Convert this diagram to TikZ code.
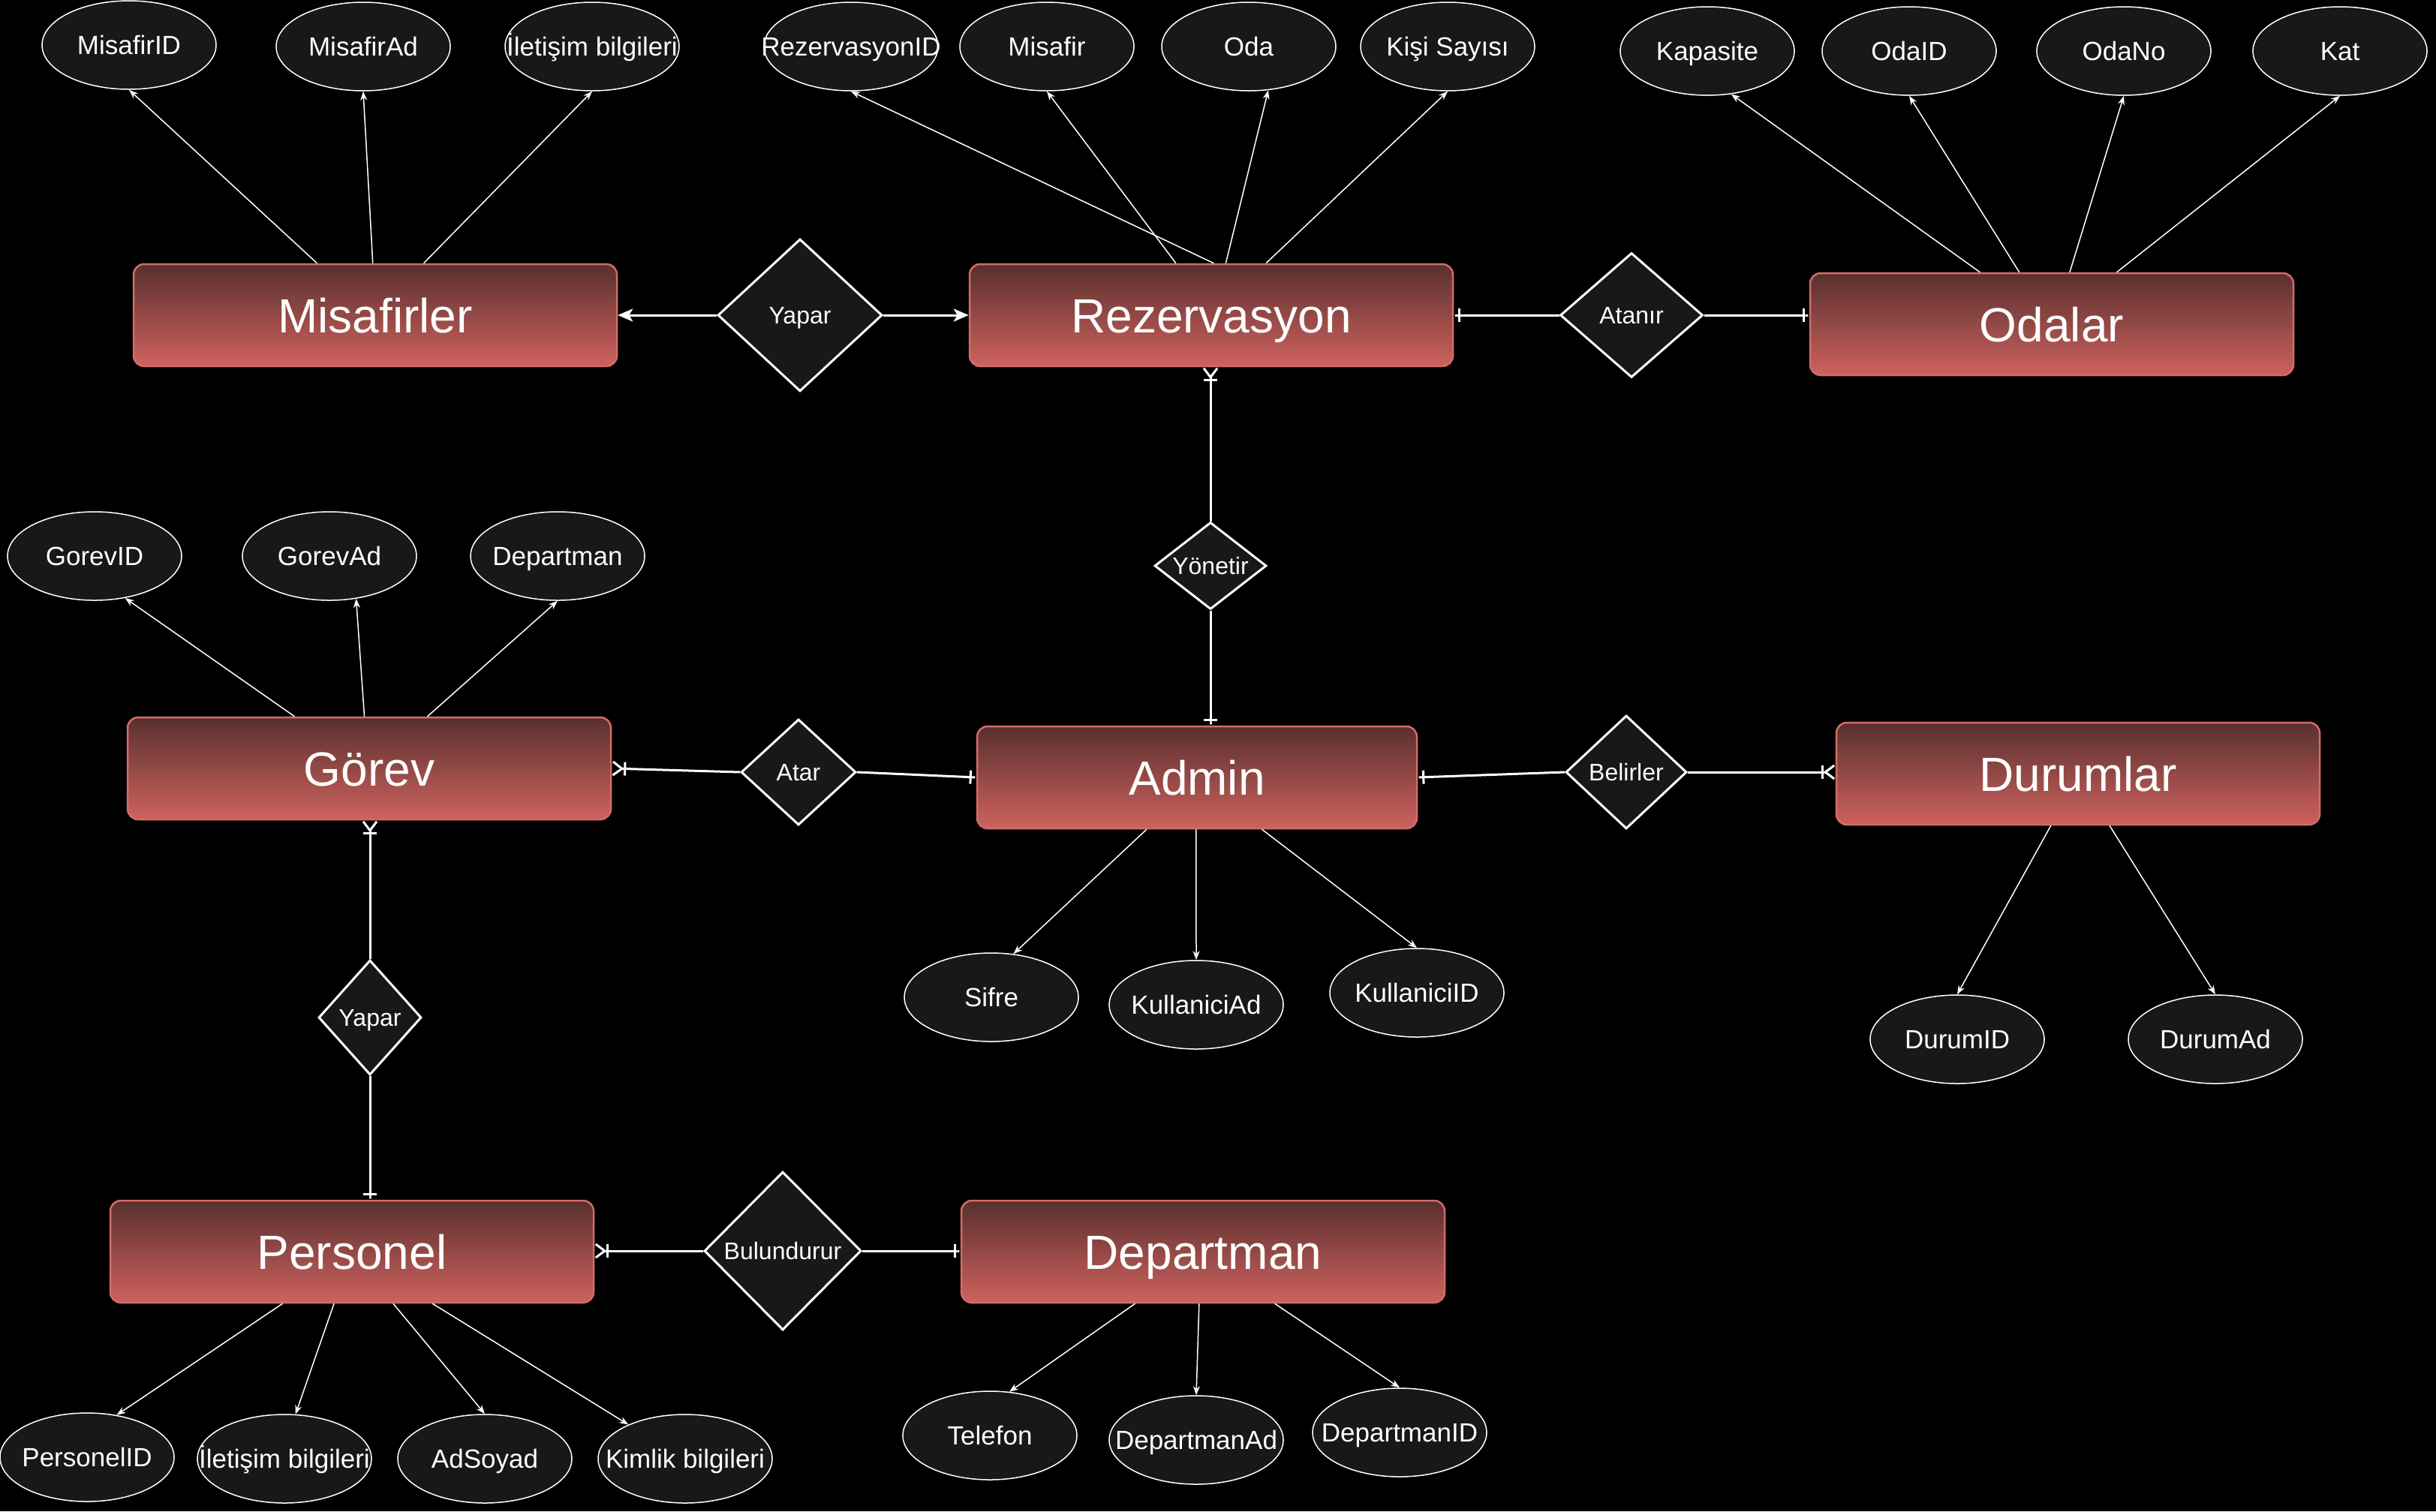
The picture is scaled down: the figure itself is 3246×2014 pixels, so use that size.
\documentclass[tikz,border=0pt]{standalone}
\usepackage{fontspec}
\setmainfont{Liberation Sans}
\usetikzlibrary{shapes.geometric,arrows.meta,calc}

\definecolor{nodefill}{HTML}{181818}
\definecolor{enttop}{RGB}{88,48,46}
\definecolor{entbot}{RGB}{206,98,94}
\definecolor{entline}{RGB}{212,108,104}

\newcommand\ctxt[1]{\makebox[0pt]{#1}}

\tikzset{
 entity/.style={rectangle, rounded corners=14pt, top color=enttop, bottom color=entbot, draw=entline, line width=2.5pt, minimum width=644pt, minimum height=136pt, inner sep=0pt, text=white, text height=46pt, text depth=0pt, font=\fontsize{64}{76}\selectfont},
 attr/.style={ellipse, fill=nodefill, draw=white!90, line width=1.5pt, minimum width=232pt, minimum height=118pt, inner sep=0pt, text=white, text height=25pt, text depth=0pt, font=\fontsize{35}{42}\selectfont},
 rel/.style={diamond, fill=nodefill, draw=white, line width=3pt, inner sep=0pt, text=white, text height=23pt, text depth=0pt, font=\fontsize{32}{38}\selectfont},
 attrline/.style={draw=white!85, line width=1.5pt, -{Stealth[length=12pt,width=9pt]}},
 relline/.style={draw=white, line width=3pt},
 toarrow/.style={-{Stealth[length=20pt,width=17pt,inset=5pt]}},
 toone/.style={-{Bar[width=18pt]Rectangle[length=6pt,width=3pt]}},
 tomany/.style={-{Bar[width=18pt]Straight Barb[reversed,length=12pt,width=18pt]}},
}

\begin{document}
\begin{tikzpicture}[x=1pt,y=-1pt]
\fill[black] (0,0) rectangle (3246,2014);
\useasboundingbox (0,0) rectangle (3246,2014);

% entities
\node[entity] (mis) at (500,420) {Misafirler};
\node[entity] (rez) at (1614,420) {Rezervasyon};
\node[entity] (oda) at (2734,432) {Odalar};
\node[entity] (gor) at (492,1024) {Görev};
\node[entity, minimum width=586pt] (adm) at (1595,1036) {Admin};
\node[entity] (dur) at (2769,1031) {Durumlar};
\node[entity] (per) at (469,1668) {Personel};
\node[entity] (dep) at (1603,1668) {Departman};

% relationships
\node[rel, minimum width=219pt, minimum height=203pt] (yap1) at (1066,420) {\ctxt{Yapar}};
\node[rel, minimum width=190pt, minimum height=166pt] (ata) at (2174,420) {\ctxt{Atanır}};
\node[rel, minimum width=149pt, minimum height=116pt] (yon) at (1613,754) {\ctxt{Yönetir}};
\node[rel, minimum width=153pt, minimum height=141pt] (atar) at (1064,1029) {\ctxt{Atar}};
\node[rel, minimum width=161pt, minimum height=151pt] (bel) at (2167,1029) {\ctxt{Belirler}};
\node[rel, minimum width=137pt, minimum height=153pt] (yap2) at (493,1356) {\ctxt{Yapar}};
\node[rel, minimum width=209pt, minimum height=211pt] (bul) at (1043,1667) {\ctxt{Bulundurur}};

% attributes
\node[attr] (a1) at (172,60) {\ctxt{MisafirID}};
\node[attr] (a2) at (484,62) {\ctxt{MisafirAd}};
\node[attr] (a3) at (789,62) {\ctxt{İletişim bilgileri}};
\node[attr] (a4) at (1134,62) {\ctxt{RezervasyonID}};
\node[attr] (a5) at (1395,62) {\ctxt{Misafir}};
\node[attr] (a6) at (1664,62) {\ctxt{Oda}};
\node[attr] (a7) at (1929,62) {\ctxt{Kişi Sayısı}};
\node[attr] (a8) at (2275,68) {\ctxt{Kapasite}};
\node[attr] (a9) at (2544,68) {\ctxt{OdaID}};
\node[attr] (a10) at (2830,68) {\ctxt{OdaNo}};
\node[attr] (a11) at (3118,68) {\ctxt{Kat}};
\node[attr] (b1) at (126,741) {\ctxt{GorevID}};
\node[attr] (b2) at (439,741) {\ctxt{GorevAd}};
\node[attr] (b3) at (743,741) {\ctxt{Departman}};
\node[attr] (c1) at (1321,1329) {\ctxt{Sifre}};
\node[attr] (c2) at (1594,1339) {\ctxt{KullaniciAd}};
\node[attr] (c3) at (1888,1323) {\ctxt{KullaniciID}};
\node[attr] (d1) at (2608,1385) {\ctxt{DurumID}};
\node[attr] (d2) at (2952,1385) {\ctxt{DurumAd}};
\node[attr] (e1) at (116,1942) {\ctxt{PersonelID}};
\node[attr] (e2) at (379,1944) {\ctxt{İletişim bilgileri}};
\node[attr] (e3) at (646,1944) {\ctxt{AdSoyad}};
\node[attr] (e4) at (913,1944) {\ctxt{Kimlik bilgileri}};
\node[attr] (f1) at (1319,1913) {\ctxt{Telefon}};
\node[attr] (f2) at (1594,1919) {\ctxt{DepartmanAd}};
\node[attr] (f3) at (1865,1909) {\ctxt{DepartmanID}};

% attribute connectors
\draw[attrline] ($(mis.north west)!0.38!(mis.north east)$) -- (a1.south);
\draw[attrline] ($(mis.north west)!0.495!(mis.north east)$) -- (a2.south);
\draw[attrline] ($(mis.north west)!0.60!(mis.north east)$) -- (a3.south);
\draw[attrline] ($(rez.north west)!0.505!(rez.north east)$) -- (a4.south);
\draw[attrline] ($(rez.north west)!0.427!(rez.north east)$) -- (a5.south);
\draw[attrline] ($(rez.north west)!0.53!(rez.north east)$) -- (a6.-66);
\draw[attrline] ($(rez.north west)!0.613!(rez.north east)$) -- (a7.south);
\draw[attrline] ($(oda.north west)!0.352!(oda.north east)$) -- (a8.-61);
\draw[attrline] ($(oda.north west)!0.433!(oda.north east)$) -- (a9.south);
\draw[attrline] ($(oda.north west)!0.537!(oda.north east)$) -- (a10.south);
\draw[attrline] ($(oda.north west)!0.634!(oda.north east)$) -- (a11.south);
\draw[attrline] ($(gor.north west)!0.346!(gor.north east)$) -- (b1.-54);
\draw[attrline] ($(gor.north west)!0.49!(gor.north east)$) -- (b2.-58);
\draw[attrline] ($(gor.north west)!0.62!(gor.north east)$) -- (b3.south);
\draw[attrline] ($(adm.south west)!0.386!(adm.south east)$) -- (c1.63);
\draw[attrline] ($(adm.south west)!0.498!(adm.south east)$) -- (c2.north);
\draw[attrline] ($(adm.south west)!0.647!(adm.south east)$) -- (c3.north);
\draw[attrline] ($(dur.south west)!0.444!(dur.south east)$) -- (d1.north);
\draw[attrline] ($(dur.south west)!0.565!(dur.south east)$) -- (d2.north);
\draw[attrline] ($(per.south west)!0.357!(per.south east)$) -- (e1.55);
\draw[attrline] ($(per.south west)!0.463!(per.south east)$) -- (e2.76);
\draw[attrline] ($(per.south west)!0.585!(per.south east)$) -- (e3.north);
\draw[attrline] ($(per.south west)!0.666!(per.south east)$) -- (e4.149);
\draw[attrline] ($(dep.south west)!0.36!(dep.south east)$) -- (f1.66);
\draw[attrline] ($(dep.south west)!0.492!(dep.south east)$) -- (f2.north);
\draw[attrline] ($(dep.south west)!0.648!(dep.south east)$) -- (f3.north);

% relationship connectors
\draw[relline, toarrow] (yap1.west) -- (mis.east);
\draw[relline, toarrow] (yap1.east) -- (rez.west);
\draw[relline, toone] (ata.west) -- (rez.east);
\draw[relline, toone] (ata.east) -- (oda.west |- ata.east);
\draw[relline, tomany] (yon.north) -- (rez.south -| yon.north);
\draw[relline, toone] (yon.south) -- (adm.north -| yon.south);
\draw[relline, tomany] (atar.west) -- (gor.east);
\draw[relline, toone] (atar.east) -- (adm.west);
\draw[relline, toone] (bel.west) -- (adm.east);
\draw[relline, tomany] (bel.east) -- (dur.west |- bel.east);
\draw[relline, tomany] (yap2.north) -- (gor.south -| yap2.north);
\draw[relline, toone] (yap2.south) -- (per.north -| yap2.south);
\draw[relline, tomany] (bul.west) -- (per.east |- bul.west);
\draw[relline, toone] (bul.east) -- (dep.west |- bul.east);
\end{tikzpicture}
\end{document}
